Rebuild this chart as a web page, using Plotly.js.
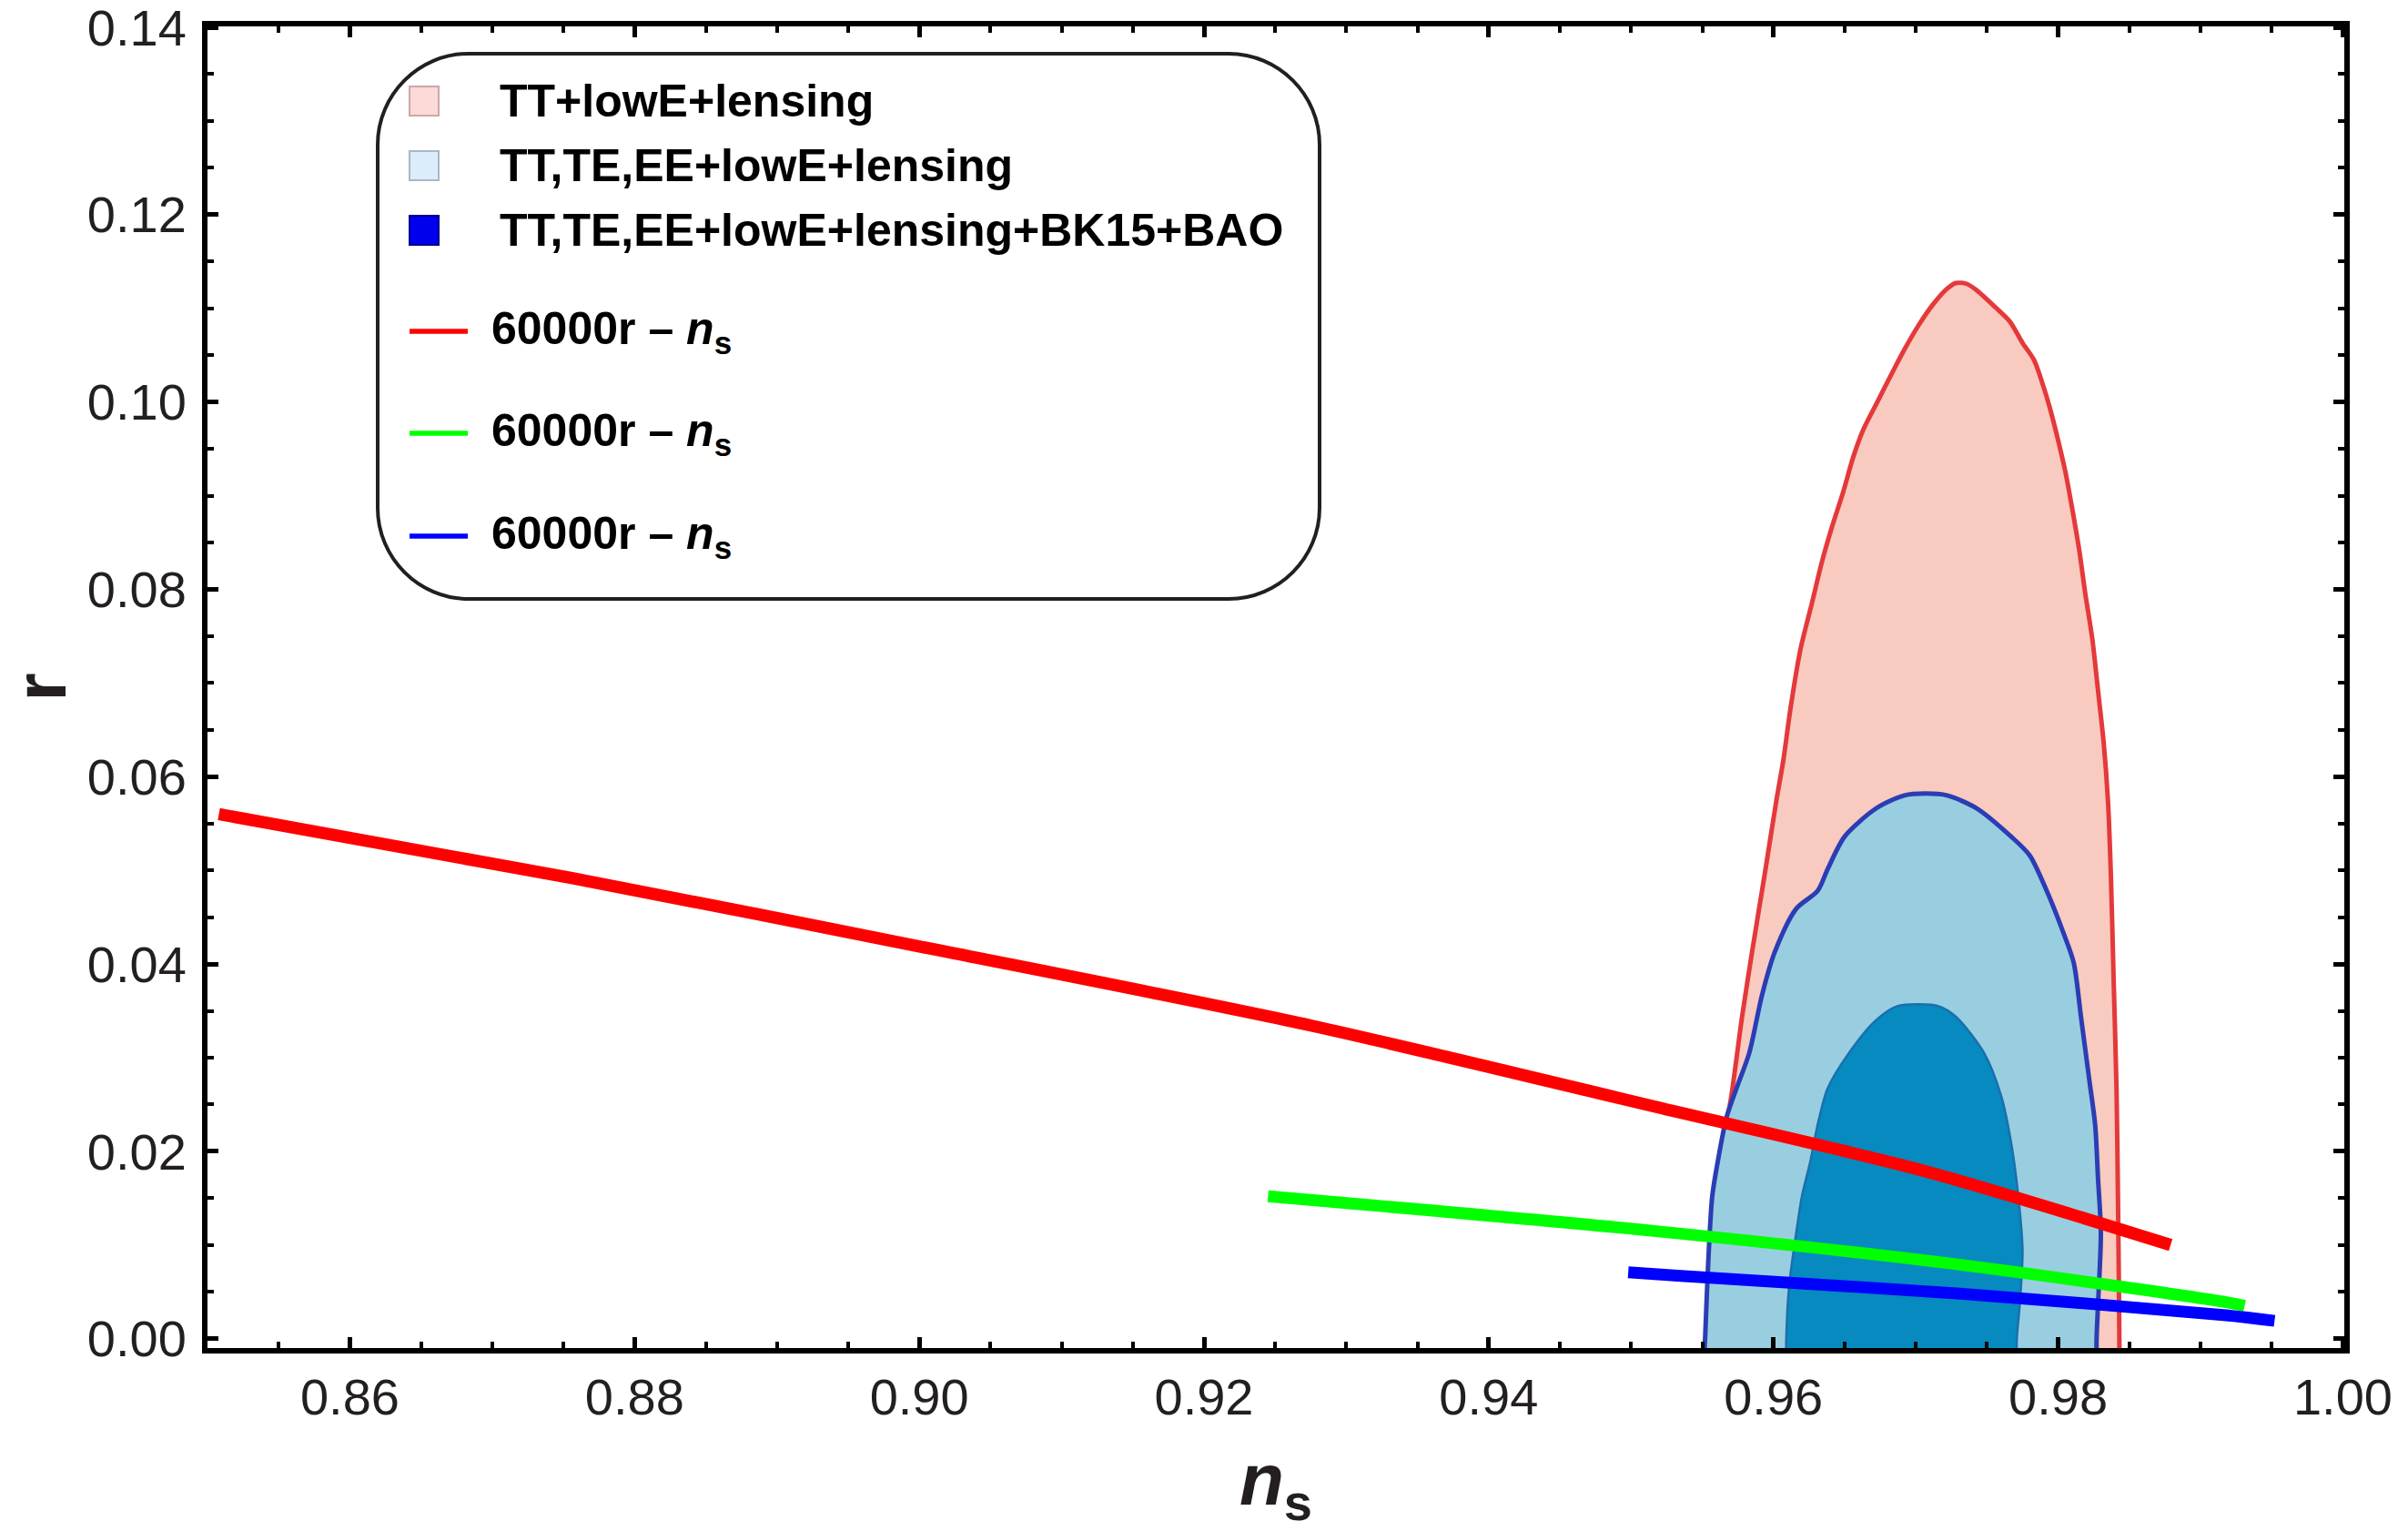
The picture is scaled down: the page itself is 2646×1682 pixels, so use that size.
<!DOCTYPE html>
<html>
<head>
<meta charset="utf-8">
<script src="https://cdn.plot.ly/plotly-3.0.1.min.js"></script>
<style>html,body{margin:0;padding:0;background:#ffffff;}</style>
</head>
<body>
<div id="chart" style="width:2646px;height:1682px;"></div>
<script>
// ---- data ----
// Contour: TT+lowE+lensing (outer, pink)
const outerNs = [0.9553, 0.9554, 0.9555, 0.9559, 0.9562, 0.9570, 0.9578, 0.9585, 0.9594, 0.9602, 0.9607, 0.9612, 0.9619, 0.9627, 0.9634, 0.9641, 0.9649, 0.9656, 0.9663, 0.9673, 0.9683, 0.9692, 0.9702, 0.9712, 0.9722, 0.9728, 0.9736, 0.9743, 0.9756, 0.9766, 0.9775, 0.9783, 0.9790, 0.9795, 0.9800, 0.9805, 0.9810, 0.9815, 0.9819, 0.9824, 0.9828, 0.9832, 0.9835, 0.9837, 0.9839, 0.9841, 0.9842, 0.9843, 0.9843];
const outerR  = [-0.003, 0.0000, 0.0075, 0.0152, 0.0190, 0.0255, 0.0344, 0.0413, 0.0497, 0.0574, 0.0618, 0.0673, 0.0736, 0.0785, 0.0829, 0.0866, 0.0904, 0.0941, 0.0970, 0.1000, 0.1030, 0.1056, 0.1082, 0.1104, 0.1121, 0.1127, 0.1126, 0.1119, 0.1101, 0.1086, 0.1063, 0.1045, 0.1015, 0.0989, 0.0959, 0.0926, 0.0885, 0.0840, 0.0796, 0.0747, 0.0692, 0.0636, 0.0574, 0.0497, 0.0382, 0.0267, 0.0152, 0.0000, -0.003];

// Contour: TT,TE,EE+lowE+lensing (middle, light blue)
const midNs = [0.9551, 0.9552, 0.9554, 0.9557, 0.9561, 0.9567, 0.9574, 0.9583, 0.9592, 0.9601, 0.9616, 0.9631, 0.9638, 0.9650, 0.9672, 0.9692, 0.9707, 0.9722, 0.9743, 0.9767, 0.9780, 0.9792, 0.9804, 0.9811, 0.9816, 0.9822, 0.9826, 0.9828, 0.9830, 0.9828, 0.9827, 0.9827];
const midR  = [-0.003, 0.0000, 0.0075, 0.0152, 0.0190, 0.0236, 0.0267, 0.0305, 0.0367, 0.0413, 0.0459, 0.0478, 0.0501, 0.0536, 0.0566, 0.0580, 0.0582, 0.0580, 0.0566, 0.0536, 0.0516, 0.0478, 0.0432, 0.0401, 0.0344, 0.0275, 0.0228, 0.0171, 0.0113, 0.0036, 0.0000, -0.003];

// Contour: TT,TE,EE+lowE+lensing+BK15+BAO (inner, dark blue)
const innerNs = [0.9609, 0.9609, 0.9611, 0.9616, 0.9620, 0.9626, 0.9631, 0.9638, 0.9653, 0.9672, 0.9687, 0.9702, 0.9716, 0.9728, 0.9748, 0.9760, 0.9767, 0.9772, 0.9775, 0.9773, 0.9771, 0.9771];
const innerR  = [-0.003, 0.0000, 0.0056, 0.0113, 0.0152, 0.0190, 0.0228, 0.0267, 0.0305, 0.0340, 0.0355, 0.0357, 0.0355, 0.0344, 0.0305, 0.0259, 0.0209, 0.0152, 0.0094, 0.0036, 0.0000, -0.003];

// Model curves
const redNs   = [0.8508, 0.8755, 0.9016, 0.9276, 0.9516, 0.9706, 0.9879];
const redR    = [0.0560, 0.0492, 0.0414, 0.0334, 0.0248, 0.0179, 0.0100];
const greenNs = [0.9245, 0.9516, 0.9731, 0.9918, 0.9931];
const greenR  = [0.0152, 0.0115, 0.0079, 0.0039, 0.0035];
const blueNs  = [0.9498, 0.9535, 0.9731, 0.9918, 0.9952];
const blueR   = [0.0071, 0.0067, 0.0048, 0.0025, 0.0019];

// Ticks
const xTickVals = [0.86, 0.88, 0.90, 0.92, 0.94, 0.96, 0.98, 1.00];
const xTickText = ['0.86', '0.88', '0.90', '0.92', '0.94', '0.96', '0.98', '1.00'];
const yTickVals = [0.00, 0.02, 0.04, 0.06, 0.08, 0.10, 0.12, 0.14];
const yTickText = ['0.00', '0.02', '0.04', '0.06', '0.08', '0.10', '0.12', '0.14'];

// Titles and legend
const xTitle = '<b><i>n</i><sub>s</sub></b>';
const yTitle = '<b>r</b>';
const regionLabels = ['TT+lowE+lensing', 'TT,TE,EE+lowE+lensing', 'TT,TE,EE+lowE+lensing+BK15+BAO'];
const curveLabels  = ['60000r – <i>n</i><sub>s</sub>', '60000r – <i>n</i><sub>s</sub>', '60000r – <i>n</i><sub>s</sub>'];

// ---- styles ----
const FONT = 'Liberation Sans, Arial, Helvetica, sans-serif';
const INK = '#231f20';
const regionSwatch = [
  {fill: '#fdd9d8', line: '#c9a9a8'},
  {fill: '#dcecfa', line: '#a9b7c6'},
  {fill: '#0000ee', line: '#00008a'}
];
const curveColors = ['#ff0000', '#00ff00', '#0000ff'];
const SMOOTH = {shape: 'spline', smoothing: 0.8};

const traces = [
  {x: outerNs, y: outerR, type: 'scatter', mode: 'lines', fill: 'toself',
   fillcolor: '#f9cabf', line: Object.assign({color: '#e4393b', width: 5}, SMOOTH), name: regionLabels[0], showlegend: false, hoverinfo: 'skip'},
  {x: midNs, y: midR, type: 'scatter', mode: 'lines', fill: 'toself',
   fillcolor: '#99cee0', line: Object.assign({color: '#2b3db4', width: 5}, SMOOTH), name: regionLabels[1], showlegend: false, hoverinfo: 'skip'},
  {x: innerNs, y: innerR, type: 'scatter', mode: 'lines', fill: 'toself',
   fillcolor: '#068abf', line: Object.assign({color: '#1a6fae', width: 2.5}, SMOOTH), name: regionLabels[2], showlegend: false, hoverinfo: 'skip'},
  {x: redNs, y: redR, type: 'scatter', mode: 'lines', line: Object.assign({color: curveColors[0], width: 13.5}, SMOOTH), showlegend: false, hoverinfo: 'skip'},
  {x: greenNs, y: greenR, type: 'scatter', mode: 'lines', line: Object.assign({color: curveColors[1], width: 13}, SMOOTH), showlegend: false, hoverinfo: 'skip'},
  {x: blueNs, y: blueR, type: 'scatter', mode: 'lines', line: Object.assign({color: curveColors[2], width: 13}, SMOOTH), showlegend: false, hoverinfo: 'skip'}
];

// ---- legend box (drawn as paper shapes + annotations) ----
const L = 228, T = 29, W = 2348, H = 1452;
const px = v => (v - L) / W;
const py = v => (T + H - v) / H;

function roundedRect(x0p, y0p, x1p, y1p, r) {
  const X0 = px(x0p), X1 = px(x1p), Y0 = py(y1p), Y1 = py(y0p);
  const rx = r / W, ry = r / H, k = 0.45;
  return `M ${X0 + rx},${Y1} L ${X1 - rx},${Y1} C ${X1 - rx * k},${Y1} ${X1},${Y1 - ry * k} ${X1},${Y1 - ry} ` +
         `L ${X1},${Y0 + ry} C ${X1},${Y0 + ry * k} ${X1 - rx * k},${Y0} ${X1 - rx},${Y0} ` +
         `L ${X0 + rx},${Y0} C ${X0 + rx * k},${Y0} ${X0},${Y0 + ry * k} ${X0},${Y0 + ry} ` +
         `L ${X0},${Y1 - ry} C ${X0},${Y1 - ry * k} ${X0 + rx * k},${Y1} ${X0 + rx},${Y1} Z`;
}

const shapes = [{
  type: 'path', xref: 'paper', yref: 'paper', path: roundedRect(415, 59, 1450, 658, 100),
  line: {color: INK, width: 4}, fillcolor: 'rgba(0,0,0,0)', layer: 'above'
}];
const annotations = [];
const regionRows = [111, 182, 253];
const curveRows = [364, 476, 589];
regionRows.forEach((yy, i) => {
  shapes.push({type: 'rect', xref: 'paper', yref: 'paper', xsizemode: 'pixel', ysizemode: 'pixel',
    xanchor: px(466), yanchor: py(yy), x0: -16, x1: 16, y0: -16, y1: 16,
    fillcolor: regionSwatch[i].fill, line: {color: regionSwatch[i].line, width: 2}, layer: 'above'});
  annotations.push({xref: 'paper', yref: 'paper', x: px(547), y: py(yy), xanchor: 'left', yanchor: 'middle',
    showarrow: false, text: '<b>' + regionLabels[i] + '</b>', font: {family: FONT, size: 50, color: '#000000'}});
});
curveRows.forEach((yy, i) => {
  shapes.push({type: 'line', xref: 'paper', yref: 'paper', xsizemode: 'pixel', ysizemode: 'pixel',
    xanchor: px(482), yanchor: py(yy), x0: -32, x1: 32, y0: 0, y1: 0,
    line: {color: curveColors[i], width: 5.5}, layer: 'above'});
  annotations.push({xref: 'paper', yref: 'paper', x: px(538), y: py(yy), xanchor: 'left', yanchor: 'middle',
    showarrow: false, text: '<b>' + curveLabels[i] + '</b>', font: {family: FONT, size: 50, color: '#000000'}});
});

const axisCommon = {
  showgrid: false, zeroline: false, showline: true, linecolor: '#000000', linewidth: 6,
  mirror: 'ticks', ticks: 'inside', ticklen: 12, tickwidth: 5, tickcolor: '#000000',
  ticklabeloverflow: 'allow',
  tickfont: {family: FONT, size: 56, color: INK},
  minor: {ticks: 'inside', ticklen: 7, tickwidth: 4, tickcolor: '#000000', dtick: 0.005, showgrid: false}
};

const layout = {
  width: 2646, height: 1682,
  margin: {l: 228, r: 70, t: 29, b: 201, pad: 0},
  paper_bgcolor: '#ffffff', plot_bgcolor: '#ffffff',
  showlegend: false,
  xaxis: Object.assign({}, axisCommon, {
    range: [0.85, 1.0001], tickmode: 'array', tickvals: xTickVals, ticktext: xTickText,
    minor: Object.assign({}, axisCommon.minor, {tick0: 0.85}),
    title: {text: xTitle, font: {family: FONT, size: 80, color: INK}, standoff: 36}
  }),
  yaxis: Object.assign({}, axisCommon, {
    range: [-0.001, 0.1401], tickmode: 'array', tickvals: yTickVals, ticktext: yTickText,
    minor: Object.assign({}, axisCommon.minor, {tick0: 0}),
    ticklabelstandoff: 6,
    title: {text: yTitle, font: {family: FONT, size: 80, color: INK}, standoff: 40}
  }),
  shapes: shapes,
  annotations: annotations
};

Plotly.newPlot('chart', traces, layout, {displayModeBar: false, staticPlot: true});
</script>
</body>
</html>
